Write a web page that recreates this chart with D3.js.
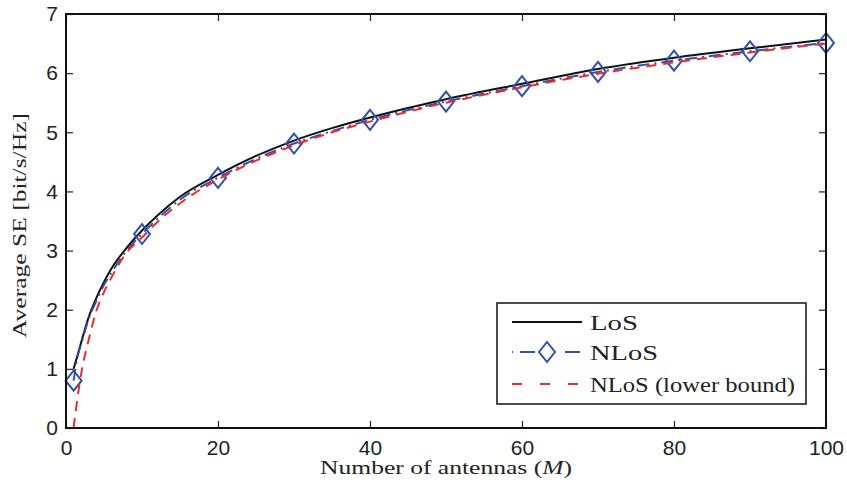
<!DOCTYPE html>
<html>
<head>
<meta charset="utf-8">
<script src="https://cdn.jsdelivr.net/npm/d3@7"></script>
<style>
    body { margin: 0; background: #fff; }
    svg { display: block; }
    .sans { font-family: 'Liberation Sans', Arimo, Arial, Helvetica, sans-serif; }
    .serif { font-family: 'Liberation Serif', Tinos, 'Times New Roman', Times, serif; }
</style>
</head>
<body>
<svg></svg>
<script>
var width = 847, height = 491;

// LoS curve
var losM  = [1, 1.5, 2, 3, 4, 5, 6, 8, 10, 12, 15, 20, 25, 30, 35, 40, 50, 60, 70, 80, 90, 100];
var losSE = [1.0, 1.22, 1.45, 1.88, 2.2, 2.47, 2.7, 3.05, 3.34, 3.59, 3.91, 4.28, 4.6, 4.86, 5.07, 5.25, 5.56, 5.82, 6.07, 6.26, 6.42, 6.57];

// NLoS curve
var nlosM  = [1, 1.5, 2, 3, 4, 5, 6, 8, 10, 12, 15, 20, 25, 30, 35, 40, 50, 60, 70, 80, 90, 100];
var nlosSE = [0.8, 1.2, 1.42, 1.85, 2.15, 2.42, 2.63, 3.0, 3.28, 3.53, 3.86, 4.23, 4.55, 4.81, 5.02, 5.21, 5.52, 5.78, 6.02, 6.21, 6.37, 6.51];
var markerM = [1, 10, 20, 30, 40, 50, 60, 70, 80, 90, 100];

// NLoS lower bound
var lbM  = [1, 1.5, 2, 3, 4, 5, 6, 8, 10, 12, 15, 20, 25, 30, 35, 40, 50, 60, 70, 80, 90, 100];
var lbSE = [0, 0.5, 0.92, 1.5, 1.98, 2.3, 2.55, 2.97, 3.22, 3.48, 3.8, 4.2, 4.52, 4.78, 5.0, 5.18, 5.5, 5.76, 5.99, 6.18, 6.35, 6.5];

var xTicks = [0, 20, 40, 60, 80, 100];
var yTicks = [0, 1, 2, 3, 4, 5, 6, 7];

var legendLabels = ['LoS', 'NLoS', 'NLoS (lower bound)'];

var margin = {left: 66, right: 21, top: 14, bottom: 63};
var plotW = width - margin.left - margin.right,
    plotH = height - margin.top - margin.bottom;

var black = '#111111', blue = '#3050a8', red = '#ee2a2a';

var svg = d3.select('svg')
            .attr('width', width)
            .attr('height', height);

var x = d3.scaleLinear().domain([0, 100]).range([0, plotW]);
var y = d3.scaleLinear().domain([0, 7]).range([plotH, 0]);

var g = svg.append('g')
            .attr('transform', `translate(${margin.left},${margin.top})`);

// axes, ticks pointing inward on all four sides
function styleAxis(sel){
    sel.attr('font-family', null).attr('font-size', null);
    sel.select('.domain').remove();
    sel.selectAll('.tick line').attr('stroke', '#222').attr('stroke-width', 1.2);
    sel.selectAll('.tick text')
        .classed('sans', true)
        .attr('fill', '#222')
        .style('font-size', '21px');
}

g.append('g')
    .attr('transform', `translate(0,${plotH})`)
    .call(d3.axisBottom(x).tickValues(xTicks).tickSize(-7).tickPadding(12).tickFormat(d3.format('d')))
    .call(styleAxis);

g.append('g')
    .call(d3.axisTop(x).tickValues(xTicks).tickSize(-7).tickFormat(''))
    .call(styleAxis);

g.append('g')
    .call(d3.axisLeft(y).tickValues(yTicks).tickSize(-7).tickPadding(8).tickFormat(d3.format('d')))
    .call(styleAxis);

g.append('g')
    .attr('transform', `translate(${plotW},0)`)
    .call(d3.axisRight(y).tickValues(yTicks).tickSize(-7).tickFormat(''))
    .call(styleAxis);

// curves
var line = d3.line()
                .x(d => x(d[0]))
                .y(d => y(d[1]))
                .curve(d3.curveMonotoneX);

var losData  = losM.map((m, i) => [m, losSE[i]]);
var nlosData = nlosM.map((m, i) => [m, nlosSE[i]]);
var lbData   = lbM.map((m, i) => [m, lbSE[i]]);

g.append('path')
    .datum(losData)
    .attr('d', line)
    .attr('fill', 'none')
    .attr('stroke', black)
    .attr('stroke-width', 2);

g.append('path')
    .datum(nlosData)
    .attr('d', line)
    .attr('fill', 'none')
    .attr('stroke', blue)
    .attr('stroke-width', 2)
    .attr('stroke-dasharray', '12,5,2,5');

var diamond = 'M0,-10L8,0L0,10L-8,0Z';

g.selectAll('.marker')
    .data(nlosData.filter(d => markerM.indexOf(d[0]) !== -1))
    .enter()
    .append('path')
        .classed('marker', true)
        .attr('transform', d => `translate(${x(d[0])},${y(d[1])})`)
        .attr('d', diamond)
        .attr('fill', 'none')
        .attr('stroke', blue)
        .attr('stroke-width', 2);

g.append('path')
    .datum(lbData)
    .attr('d', line)
    .attr('fill', 'none')
    .attr('stroke', red)
    .attr('stroke-width', 2)
    .attr('stroke-dasharray', '10,7');

// frame
g.append('rect')
    .attr('width', plotW)
    .attr('height', plotH)
    .attr('fill', 'none')
    .attr('stroke', '#111')
    .attr('stroke-width', 2);

// axis titles
var xTitle = svg.append('text')
    .classed('serif', true)
    .attr('x', margin.left + plotW / 2)
    .attr('y', 474)
    .attr('text-anchor', 'middle')
    .attr('textLength', 252)
    .attr('lengthAdjust', 'spacingAndGlyphs')
    .style('font-size', '19px')
    .attr('fill', '#222');
xTitle.append('tspan').text('Number of antennas (');
xTitle.append('tspan').style('font-style', 'italic').text('M');
xTitle.append('tspan').text(')');

svg.append('text')
    .classed('serif', true)
    .attr('transform', 'translate(26,225.5) rotate(-90)')
    .attr('text-anchor', 'middle')
    .attr('textLength', 225)
    .attr('lengthAdjust', 'spacingAndGlyphs')
    .style('font-size', '19px')
    .attr('fill', '#222')
    .text('Average SE [bit/s/Hz]');

// legend
var legend = svg.append('g')
                .attr('transform', 'translate(497,303)');

legend.append('rect')
    .attr('width', 309)
    .attr('height', 101)
    .attr('fill', '#fff')
    .attr('stroke', '#111')
    .attr('stroke-width', 1.5);

var rowY = [19, 49, 81];
var legendStyles = [
    {color: black, dash: null},
    {color: blue, dash: '1,7,15,30,15,7,1'},
    {color: red, dash: '10,18'}
];
var legendWidths = [48, 68, 205];

legendLabels.forEach(function(label, i){
    legend.append('line')
        .attr('x1', 15)
        .attr('x2', 85)
        .attr('y1', rowY[i])
        .attr('y2', rowY[i])
        .attr('stroke', legendStyles[i].color)
        .attr('stroke-width', 2)
        .attr('stroke-dasharray', legendStyles[i].dash);

    if(i === 1){
        legend.append('path')
            .attr('transform', `translate(50,${rowY[i]})`)
            .attr('d', diamond)
            .attr('fill', '#fff')
            .attr('stroke', blue)
            .attr('stroke-width', 2);
    }

    legend.append('text')
        .classed('serif', true)
        .attr('x', 93)
        .attr('y', rowY[i] + 7.5)
        .attr('textLength', legendWidths[i])
        .attr('lengthAdjust', 'spacingAndGlyphs')
        .style('font-size', '21px')
        .attr('fill', '#222')
        .text(label);
});
</script>
</body>
</html>
